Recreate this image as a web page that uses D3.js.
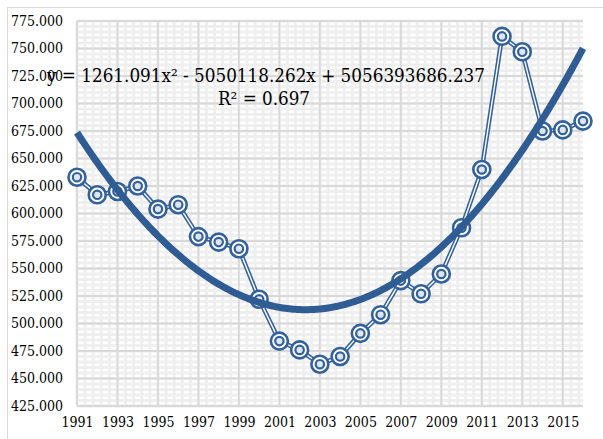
<!DOCTYPE html>
<html>
<head>
<meta charset="utf-8">
<script src="https://cdn.jsdelivr.net/npm/d3@7"></script>
<style>
  body { margin: 0; background: #fff; }
</style>
</head>
<body>
<div id="chart"></div>
<script>
// data
var years = [1991, 1992, 1993, 1994, 1995, 1996, 1997, 1998, 1999, 2000, 2001, 2002, 2003,
             2004, 2005, 2006, 2007, 2008, 2009, 2010, 2011, 2012, 2013, 2014, 2015, 2016];
var values = [633, 617, 620, 625, 604, 608, 579, 574, 568, 522, 484, 476, 463,
              470, 491, 508, 539, 527, 545, 587, 640, 761, 747, 675, 676, 684];
var yTicks = [425, 450, 475, 500, 525, 550, 575, 600, 625, 650, 675, 700, 725, 750, 775];
var xTickLabels = [1991, 1993, 1995, 1997, 1999, 2001, 2003, 2005, 2007, 2009, 2011, 2013, 2015];
var equationText = "y = 1261.091x² - 5050118.262x + 5056393686.237";
var r2Text = "R² = 0.697";

var svgWidth = 603;
var svgHeight = 439;
var margin = { top: 21, right: 20, bottom: 33, left: 77 };
var width = svgWidth - margin.left - margin.right;
var height = svgHeight - margin.top - margin.bottom;

var blue = "#33619b";
var serif = "DejaVu Serif Condensed, DejaVu Serif, serif";

var svg = d3.select("#chart")
  .append("svg")
  .attr("width", svgWidth)
  .attr("height", svgHeight);

// outer chart border
svg.append("rect")
  .attr("x", 7.5).attr("y", 7.5)
  .attr("width", 800).attr("height", 800)
  .attr("fill", "none")
  .attr("stroke", "#d9d9d9");

var g = svg.append("g")
  .attr("transform", `translate(${margin.left}, ${margin.top})`);

var x = d3.scaleLinear().domain([1991, 2016]).range([0, width]);
var y = d3.scaleLinear().domain([425, 775]).range([height, 0]);

// minor gridlines
g.append("g").selectAll("line")
  .data(d3.range(425, 775.01, 5))
  .enter().append("line")
  .attr("x1", 0).attr("x2", width)
  .attr("y1", d => y(d)).attr("y2", d => y(d))
  .attr("stroke", "#efefef").attr("stroke-width", 3);

g.append("g").selectAll("line")
  .data(d3.range(1991, 2016.01, 0.4))
  .enter().append("line")
  .attr("x1", d => x(d)).attr("x2", d => x(d))
  .attr("y1", 0).attr("y2", height)
  .attr("stroke", "#efefef").attr("stroke-width", 3);

// major gridlines
g.append("g").selectAll("line")
  .data(yTicks)
  .enter().append("line")
  .attr("x1", 0).attr("x2", width)
  .attr("y1", d => y(d)).attr("y2", d => y(d))
  .attr("stroke", "#d9d9d9").attr("stroke-width", 1.8);

g.append("g").selectAll("line")
  .data(xTickLabels)
  .enter().append("line")
  .attr("x1", d => x(d)).attr("x2", d => x(d))
  .attr("y1", 0).attr("y2", height)
  .attr("stroke", "#d9d9d9").attr("stroke-width", 1.8);

// axes (labels only, lines come from the grid)
var leftAxis = d3.axisLeft(y).tickValues(yTicks).tickSize(0).tickPadding(14)
  .tickFormat(d => d3.format(".3f")(d));
var bottomAxis = d3.axisBottom(x).tickValues(xTickLabels).tickSize(0).tickPadding(11)
  .tickFormat(d => d);

var yAxisG = g.append("g").call(leftAxis);
var xAxisG = g.append("g").attr("transform", `translate(0, ${height})`).call(bottomAxis);
[yAxisG, xAxisG].forEach(function(a) {
  a.attr("font-family", serif).attr("font-size", 14).attr("font-stretch", "condensed");
  a.select(".domain").remove();
  a.selectAll("text").attr("fill", "#000");
});
g.append("line")
  .attr("x1", 0).attr("x2", width)
  .attr("y1", height).attr("y2", height)
  .attr("stroke", "#d9d9d9").attr("stroke-width", 2);

// polynomial (order 2) trendline, least squares on the data
var x0 = d3.mean(years);
var s = [0, 0, 0, 0, 0], t = [0, 0, 0];
years.forEach(function(yr, i) {
  var u = yr - x0;
  for (var k = 0; k < 5; k++) s[k] += Math.pow(u, k);
  for (var k = 0; k < 3; k++) t[k] += values[i] * Math.pow(u, k);
});
function solve3(A, b) {
  var M = A.map((row, i) => row.concat([b[i]]));
  for (var c = 0; c < 3; c++) {
    for (var r = c + 1; r < 3; r++) {
      var f = M[r][c] / M[c][c];
      for (var k = c; k < 4; k++) M[r][k] -= f * M[c][k];
    }
  }
  var out = [0, 0, 0];
  for (var r = 2; r >= 0; r--) {
    var v = M[r][3];
    for (var k = r + 1; k < 3; k++) v -= M[r][k] * out[k];
    out[r] = v / M[r][r];
  }
  return out;
}
var coef = solve3([[s[0], s[1], s[2]], [s[1], s[2], s[3]], [s[2], s[3], s[4]]], t);
var trendPts = d3.range(1991, 2016.001, 0.1).map(function(yr) {
  var u = yr - x0;
  return [yr, coef[0] + coef[1] * u + coef[2] * u * u];
});

var trendLine = d3.line().x(d => x(d[0])).y(d => y(d[1])).curve(d3.curveMonotoneX);

// series line (double stroke look)
var lineGen = d3.line().x((d, i) => x(years[i])).y(d => y(d));
g.append("path")
  .datum(values)
  .attr("d", lineGen)
  .attr("fill", "none")
  .attr("stroke", blue)
  .attr("stroke-width", 4.5);
g.append("path")
  .datum(values)
  .attr("d", lineGen)
  .attr("fill", "none")
  .attr("stroke", "#fff")
  .attr("stroke-width", 1.4);

// markers
var markers = g.selectAll(".marker")
  .data(values)
  .enter().append("g")
  .attr("class", "marker")
  .attr("transform", (d, i) => `translate(${x(years[i])}, ${y(d)})`);
markers.append("circle")
  .attr("r", 8.5)
  .attr("fill", "#fff")
  .attr("stroke", blue)
  .attr("stroke-width", 2.6);
markers.append("circle")
  .attr("r", 4.2)
  .attr("fill", "#dde6f1")
  .attr("stroke", blue)
  .attr("stroke-width", 2.2);

// trendline on top
g.append("path")
  .datum(trendPts)
  .attr("d", trendLine)
  .attr("fill", "none")
  .attr("stroke", "#2f5d93")
  .attr("stroke-width", 7);

// equation label
svg.append("text")
  .attr("x", 47).attr("y", 82)
  .attr("font-family", serif)
  .attr("font-stretch", "condensed")
  .attr("font-size", 18)
  .attr("textLength", 438)
  .attr("lengthAdjust", "spacingAndGlyphs")
  .text(equationText);
svg.append("text")
  .attr("x", 218).attr("y", 105)
  .attr("font-family", serif)
  .attr("font-stretch", "condensed")
  .attr("font-size", 18)
  .attr("textLength", 92)
  .attr("lengthAdjust", "spacingAndGlyphs")
  .text(r2Text);
</script>
</body>
</html>
